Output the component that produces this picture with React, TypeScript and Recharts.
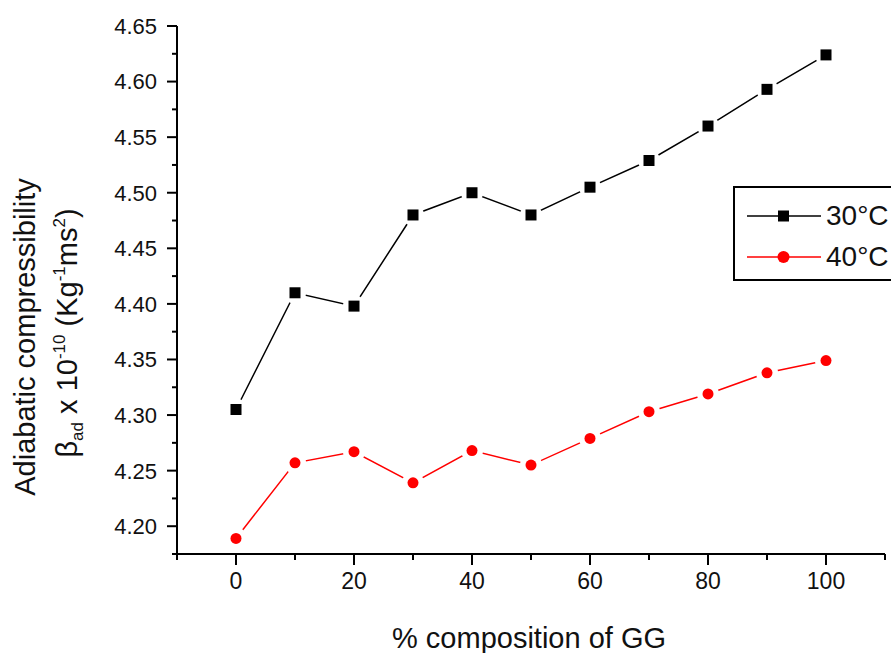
import { Legend, Line, LineChart, XAxis, YAxis } from 'recharts'

const compositions = [0, 10, 20, 30, 40, 50, 60, 70, 80, 90, 100]
const beta30 = [4.305, 4.41, 4.398, 4.48, 4.5, 4.48, 4.505, 4.529, 4.56, 4.593, 4.624]
const beta40 = [4.189, 4.257, 4.267, 4.239, 4.268, 4.255, 4.279, 4.303, 4.319, 4.338, 4.349]

const xTicks = [-10, 0, 10, 20, 30, 40, 50, 60, 70, 80, 90, 100, 110]
const yTicks = [
  4.175, 4.2, 4.225, 4.25, 4.275, 4.3, 4.325, 4.35, 4.375, 4.4, 4.425, 4.45, 4.475, 4.5, 4.525,
  4.55, 4.575, 4.6, 4.625, 4.65,
]

const FONT = '"Liberation Sans", Arial, sans-serif'

const data = compositions.map((x, i) => ({ x, t30: beta30[i], t40: beta40[i] }))

function YTick({ x, y, payload }: any) {
  const major = Math.round(payload.value * 1000) % 50 === 0
  return (
    <g>
      <line x1={x} x2={x - (major ? 10 : 5)} y1={y} y2={y} stroke="#000" strokeWidth={2} />
      {major && (
        <text x={x - 20} y={y} dy="0.36em" textAnchor="end" fontSize={22} fontFamily={FONT} fill="#111">
          {payload.value.toFixed(2)}
        </text>
      )}
    </g>
  )
}

function XTick({ x, y, payload }: any) {
  const v = payload.value
  const major = v % 20 === 0 && v >= 0 && v <= 100
  return (
    <g>
      <line x1={x} x2={x} y1={y} y2={y + (major ? 11 : 6)} stroke="#000" strokeWidth={2} />
      {major && (
        <text x={x} y={y + 35} textAnchor="middle" fontSize={23} fontFamily={FONT} fill="#111">
          {v}
        </text>
      )}
    </g>
  )
}

// white halo under each marker leaves the small gap between line and symbol
function SquareDot({ cx, cy }: any) {
  if (cx == null || cy == null) return null
  return (
    <g>
      <circle cx={cx} cy={cy} r={11} fill="#fff" />
      <rect x={cx - 5.5} y={cy - 5.5} width={11} height={11} fill="#000" />
    </g>
  )
}

function RoundDot({ cx, cy }: any) {
  if (cx == null || cy == null) return null
  return (
    <g>
      <circle cx={cx} cy={cy} r={11} fill="#fff" />
      <circle cx={cx} cy={cy} r={5.5} fill="#ff0000" />
    </g>
  )
}

function YTitle() {
  return (
    <g fontFamily={FONT} fill="#111" fontSize={29}>
      <text x={35} y={337} textAnchor="middle" transform="rotate(-90, 35, 337)">
        Adiabatic compressibility
      </text>
      <text x={77} y={333} textAnchor="middle" transform="rotate(-90, 77, 333)">
        <tspan>β</tspan>
        <tspan dy={6} fontSize={17}>ad</tspan>
        <tspan dy={-6}> x 10</tspan>
        <tspan dy={-12} fontSize={17}>-10</tspan>
        <tspan dy={12}> (Kg</tspan>
        <tspan dy={-12} fontSize={17}>-1</tspan>
        <tspan dy={12}>ms</tspan>
        <tspan dy={-12} fontSize={17}>2</tspan>
        <tspan dy={12}>)</tspan>
      </text>
    </g>
  )
}

function XTitle() {
  return (
    <text x={529} y={648} textAnchor="middle" fontSize={29} fontFamily={FONT} fill="#111">
      % composition of GG
    </text>
  )
}

function LegendBox({ payload }: any) {
  return (
    <div
      style={{
        width: 180,
        height: 95,
        boxSizing: 'border-box',
        border: '2px solid #000',
        background: '#fff',
        position: 'relative',
        fontFamily: FONT,
      }}
    >
      {(payload || []).map((entry: any, i: number) => {
        const isSquare = entry.dataKey === 't30'
        const top = i === 0 ? 28 : 69
        return (
          <div key={entry.value} style={{ position: 'absolute', left: 10, top: top - 20, height: 40, display: 'flex', alignItems: 'center' }}>
            <svg width={76} height={40}>
              <line x1={2} x2={76} y1={20} y2={20} stroke={entry.color} strokeWidth={1.5} />
              {isSquare ? (
                <rect x={33} y={14.5} width={11} height={11} fill={entry.color} />
              ) : (
                <circle cx={38.5} cy={20} r={6} fill={entry.color} />
              )}
            </svg>
            <span style={{ fontSize: 28, marginLeft: 5, color: '#111', whiteSpace: 'nowrap' }}>{entry.value}</span>
          </div>
        )
      })}
    </div>
  )
}

export default function App() {
  return (
    <div style={{ position: 'absolute', left: 0, top: 0, width: 891, height: 653, overflow: 'hidden', background: '#fff' }}>
      <LineChart width={891} height={653} data={data} margin={{ top: 26, right: 6, left: 0, bottom: 0 }}>
        <XAxis
          dataKey="x"
          type="number"
          domain={[-10, 110]}
          ticks={xTicks}
          interval={0}
          allowDataOverflow
          height={99}
          tickSize={0}
          tickMargin={0}
          tickLine={false}
          tick={<XTick />}
          axisLine={{ stroke: '#000', strokeWidth: 2 }}
          label={{ content: () => <XTitle /> }}
        />
        <YAxis
          type="number"
          domain={[4.175, 4.65]}
          ticks={yTicks}
          interval={0}
          allowDataOverflow
          width={177}
          tickSize={0}
          tickMargin={0}
          tickLine={false}
          tick={<YTick />}
          axisLine={{ stroke: '#000', strokeWidth: 2 }}
          label={{ content: () => <YTitle /> }}
        />
        <Legend
          layout="vertical"
          align="center"
          verticalAlign="middle"
          wrapperStyle={{ position: 'absolute', left: 733, top: 186, width: 180, height: 95 }}
          content={<LegendBox />}
        />
        <Line
          dataKey="t30"
          name="30°C"
          stroke="#000"
          strokeWidth={1.5}
          dot={<SquareDot />}
          activeDot={false}
          isAnimationActive={false}
        />
        <Line
          dataKey="t40"
          name="40°C"
          stroke="#ff0000"
          strokeWidth={1.5}
          dot={<RoundDot />}
          activeDot={false}
          isAnimationActive={false}
        />
      </LineChart>
    </div>
  )
}
